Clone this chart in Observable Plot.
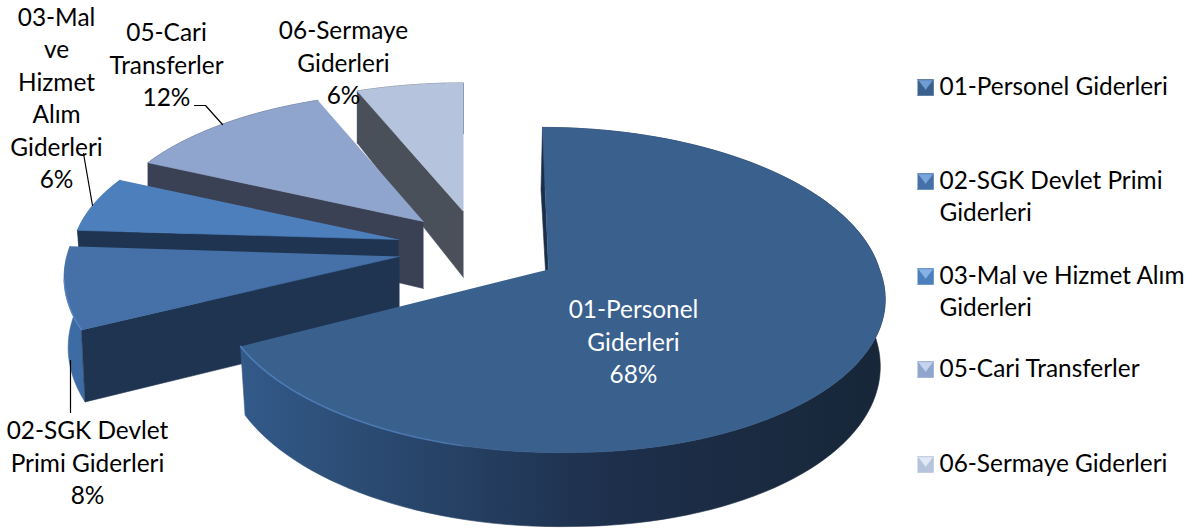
<!DOCTYPE html>
<html>
<head>
<meta charset="utf-8">
<style>html,body{margin:0;padding:0;background:#fff}svg{display:block}</style>
<script src="https://cdn.jsdelivr.net/npm/d3@7"></script>
<script src="https://cdn.jsdelivr.net/npm/@observablehq/plot@0.6"></script>
</head>
<body>
<script>
// ---- data
const categories = ["01-Personel Giderleri","02-SGK Devlet Primi Giderleri","03-Mal ve Hizmet Alım Giderleri","05-Cari Transferler","06-Sermaye Giderleri"];
const shares = [68, 8, 6, 12, 6];
const sliceLabels = ["01-Personel\nGiderleri\n68%","02-SGK Devlet\nPrimi Giderleri\n8%","03-Mal\nve\nHizmet\nAlım\nGiderleri\n6%","05-Cari\nTransferler\n12%","06-Sermaye\nGiderleri\n6%"];
const legendLabels = ["01-Personel Giderleri","02-SGK Devlet Primi\nGiderleri","03-Mal ve Hizmet Alım\nGiderleri","05-Cari Transferler","06-Sermaye Giderleri"];

// ---- styles
const topColors  = ["#3a608e","#4570a8","#4d7fbd","#90a5cd","#b5c3dc"];
const cutColors  = ["#1c2f4a","#1f3450","#1f3450","#3a4154","#4a505a"];
const wallColors = ["url(#wall01)","#3d6ba3","#3f70ab","#3a4154","#4a505a"];
const legendLight = ["#6f9cd2","#7aa6dc","#86b2e6","#c4d3ee","#e2e9f5"];

// ---- layout of the exploded perspective pie
const R = 336, Ry = 160, K = 0.126;
const layout = [
  {ax:548,ay:269,fx:0.985,fy:1,   cb:6,cf:20,d0:65,d1:9, b:5,sy:5.5},
  {ax:399,ay:256,fx:0.99, fy:1.02,cb:0,cf:0, d0:69,d1:7, b:4,sy:0},
  {ax:398,ay:239,fx:0.965,fy:0.92,cb:0,cf:0, d0:68,d1:10,b:5,sy:0},
  {ax:423,ay:221,fx:0.955,fy:0.91,cb:0,cf:0, d0:67,d1:15,b:0,sy:0},
  {ax:463,ay:211,fx:0.96, fy:0.905,cb:0,cf:0,d0:66,d1:15,b:0,sy:0}
];
const arcs = d3.pie().sort(null)(shares);
const toTop = (i, a) => {
  const L = layout[i], u = Math.sin(a), v = -Math.cos(a), s = 1 / (1 - K * v);
  return {x: L.ax + L.fx * R * u * s + (v < 0 ? L.cb : L.cf) * v,
          y: L.ay + L.fy * Ry * v * s + Math.max(0, -u) * L.sy};
};
const toBottom = (i, a) => {
  const L = layout[i], u = Math.sin(a), v = -Math.cos(a), p = toTop(i, a);
  return {x: p.x - u * L.b, y: p.y + L.d0 + L.d1 * v};
};
const rim = (f, i, a0, a1) => d3.range(0, 121).map(t => f(i, a0 + (a1 - a0) * t / 120));
const apexTop = i => ({x: layout[i].ax, y: layout[i].ay});
const apexBottom = i => ({x: layout[i].ax, y: layout[i].ay + layout[i].d0});

const poly = (pts, fill, extra = {}) =>
  Plot.line(pts, {x: "x", y: "y", fill, stroke: fill, strokeWidth: 0.6, curve: "linear", ...extra});

// back to front, as in the reference
const marks = [];
[4, 3, 2, 1, 0].forEach(i => {
  const {startAngle: a0, endAngle: a1} = arcs[i];
  // soft ground shadow: the hidden bottom face of the slice
  marks.push(poly([apexBottom(i), ...rim(toBottom, i, a0, a1)], "#6a6a6a",
    {stroke: "#6a6a6a", strokeWidth: 3, ariaLabel: "shadow"}));
  // outer wall
  marks.push(poly([...rim(toTop, i, a0, a1), ...rim(toBottom, i, a0, a1).reverse()], wallColors[i]));
  // cut face
  if (i === 0) {
    const r = toTop(0, a0), A = apexTop(0);
    marks.push(poly([r, {x: r.x - 1.5, y: r.y + 62}, {x: A.x - 3, y: A.y + 1}, A], cutColors[0]));
  } else {
    marks.push(poly([apexTop(i), toTop(i, a0), toBottom(i, a0), apexBottom(i)], cutColors[i]));
  }
  // top face
  marks.push(poly([apexTop(i), ...rim(toTop, i, a0, a1)], topColors[i]));
});

// rim highlights
marks.push(Plot.line(rim(toTop, 0, arcs[0].endAngle - 0.85, arcs[0].endAngle), {x:"x", y:"y", stroke:"url(#rim01)", strokeWidth:1.6}));
marks.push(Plot.line(rim(toTop, 1, arcs[1].startAngle, arcs[1].startAngle + 0.3), {x:"x", y:"y", stroke:"#5b8ac4", strokeWidth:1.4, strokeOpacity:0.8}));

// leader lines
const leaders = [
  [{x:70,y:360},{x:70,y:412}],
  [{x:83,y:153},{x:92,y:205}],
  [{x:194,y:105},{x:205,y:105},{x:222,y:124}]
];
leaders.forEach(l => marks.push(Plot.line(l, {x:"x", y:"y", stroke:"#000", strokeWidth:1.2, curve:"linear"})));

// data labels
const labelAt = [[633,340],[87,461],[56,96],[166,63],[343,61]];
const FONT = "Lato, Carlito, sans-serif", FS = 24.4;
marks.push(Plot.text(categories.map((c, i) => ({c, t: sliceLabels[i], x: labelAt[i][0], y: labelAt[i][1], w: i === 0}) ), {
  x:"x", y:"y", text:"t", fill:d => d.w ? "#fff" : "#000", fontSize:FS, fontFamily:FONT, lineHeight:32.5/FS, textAnchor:"middle", lineAnchor:"middle"
}));

// legend
const legendRows = [87,181,276,369,464];
const legendText = [84,194,289,366,461];
const SQ = 8;
legendRows.forEach((y, i) => {
  const x = 925;
  marks.push(poly([{x:x-SQ,y:y-SQ},{x:x+SQ,y:y-SQ},{x:x+SQ,y:y+SQ},{x:x-SQ,y:y+SQ}], topColors[i]));
  marks.push(poly([{x:x-SQ+1,y:y-SQ+1},{x:x+SQ-1,y:y-SQ+1},{x:x,y:y+2}], legendLight[i]));
});
marks.push(Plot.text(legendLabels.map((t, i) => ({t, y: legendText[i]})), {
  x:() => 939, y:"y", text:"t", fill:"#000", fontSize:FS, fontFamily:FONT, lineHeight:32.5/FS, textAnchor:"start", lineAnchor:"middle"
}));

const chart = Plot.plot({
  width: 1194, height: 529, margin: 0,
  x: {domain: [0, 1194], range: [0, 1194], axis: null},
  y: {domain: [0, 529], range: [0, 529], axis: null},
  style: {background: "#fff", overflow: "visible"},
  marks
});

// gradients and blur
const defs = d3.select(chart).insert("defs", ":first-child");
const grad = (id, x1, x2, stops) => {
  const g = defs.append("linearGradient").attr("id", id).attr("gradientUnits", "userSpaceOnUse")
    .attr("x1", x1).attr("x2", x2).attr("y1", 0).attr("y2", 0);
  stops.forEach(([o, c, a]) => g.append("stop").attr("offset", o).attr("stop-color", c).attr("stop-opacity", a ?? 1));
};
grad("wall01", 238, 885, [[0,"#335a8a"],[0.25,"#29476d"],[0.58,"#1d2f4b"],[1,"#172638"]]);
grad("rim01", 238, 520, [[0,"#4f80bb",0.9],[0.7,"#4f80bb",0.7],[1,"#4f80bb",0]]);
chart.querySelectorAll('[aria-label="shadow"]').forEach(g => { g.style.filter = "blur(2px)"; });
document.body.appendChild(chart);
</script>
</body>
</html>
